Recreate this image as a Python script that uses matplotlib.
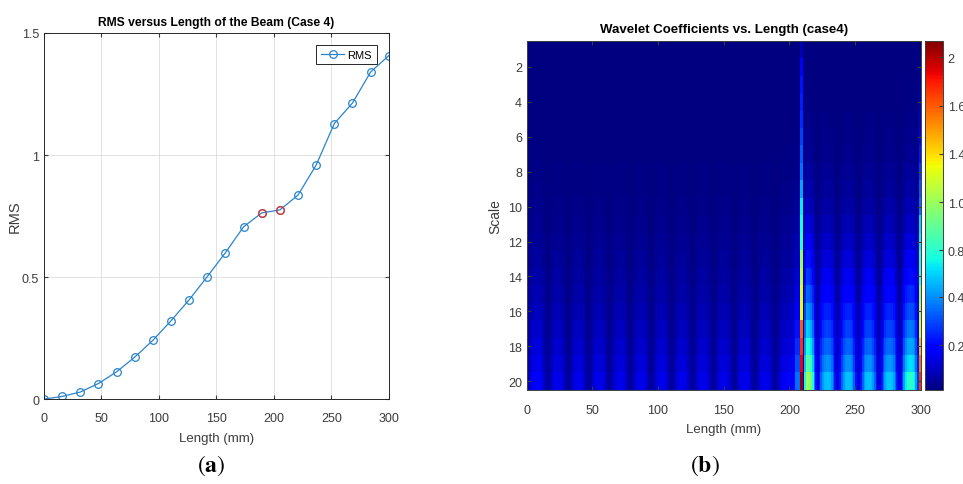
import numpy as np
import matplotlib
matplotlib.use("Agg")
import matplotlib.pyplot as plt

plt.rcParams['font.family'] = ['Liberation Sans', 'DejaVu Sans']
plt.rcParams['mathtext.fontset'] = 'stix'

# ---- (a) RMS along the beam ----
rms_length = np.linspace(0, 300, 20)   # 20 measuring points, equally spaced
rms_value = [0.0, 0.011, 0.029, 0.064, 0.112, 0.172, 0.241, 0.321, 0.407, 0.502,
             0.600, 0.706, 0.763, 0.775, 0.836, 0.959, 1.129, 1.213, 1.340, 1.407]
red_idx = [12, 13]   # points flagged in red

# ---- (b) wavelet coefficients, 20 scales x 19 beam segments ----
scales = np.arange(1, 21)
seg_peak = [0.24, 0.2, 0.2, 0.2, 0.2, 0.2, 0.2, 0.2, 0.2, 0.2,
            0.2, 0.2, 0.22, 1.15, 0.66, 0.66, 0.66, 0.68, 0.85]
bump_profile = [0.25, 0.45, 0.7, 0.88, 0.97, 1.0, 1.0, 0.97, 0.88, 0.7, 0.45, 0.25]
scale_gain = [0.0, 0.0, 0.01, 0.01, 0.02, 0.03, 0.04, 0.06, 0.08, 0.11,
              0.15, 0.2, 0.26, 0.33, 0.41, 0.5, 0.6, 0.72, 0.85, 1.0]

# crack zone, columns between these lengths (mm)
crack_edges = [200.0, 204.0, 208.3, 210.5, 211.3, 212.8]
crack_bottom = [0.25, 0.5, 0.0, 0.15, 0.8]        # bottom-row values (col 2 uses crack_line)
crack_line = [0.1, 0.25, 0.3, 0.32, 0.35, 0.4, 0.45, 0.5, 0.6, 0.75,
              0.8, 0.85, 1.1, 1.2, 1.3, 1.35, 1.7, 1.8, 1.9, 2.05]
edge_edges = [298.6, 300.0]
edge_line = [0.02, 0.05, 0.08, 0.1, 0.15, 0.2, 0.3, 0.38, 0.45, 0.5,
             0.7, 0.75, 0.8, 0.85, 1.1, 1.2, 1.3, 1.5, 1.65, 1.8]

cbar_tick_pos = [2.0, 1.71, 1.42, 1.13, 0.84, 0.56, 0.27]
cbar_tick_lab = ['2', '1.6', '1.4', '1.0', '0.8', '0.4', '0.2']

fig = plt.figure(figsize=(9.63, 4.85), dpi=100)
txt = '#3c3c3c'

# ------------------------ left panel ------------------------
ax1 = fig.add_axes([0.0457, 0.175, 0.358, 0.755])
blue = '#2a84cc'
ax1.plot(rms_length, rms_value, '-o', color=blue, lw=0.9, ms=5.5, mfc='none', mew=0.9, label='RMS')
ax1.plot(rms_length[red_idx], np.array(rms_value)[red_idx], 'o', ms=5.5, mfc='none',
         mec='#e8302a', mew=0.9)
ax1.set_xlim(0, 300)
ax1.set_ylim(0, 1.5)
ax1.set_xticks(np.arange(0, 301, 50))
ax1.set_yticks([0, 0.5, 1, 1.5])
ax1.set_yticklabels(['0', '0.5', '1', '1.5'])
ax1.grid(True, color='#dcdcdc', lw=0.6)
ax1.set_axisbelow(True)
ax1.tick_params(direction='in', top=True, right=True, labelsize=9, colors=txt, length=3)
ax1.tick_params(axis='x', pad=9)
for sp in ax1.spines.values():
    sp.set_color('#262626')
    sp.set_linewidth(0.7)
ax1.set_xlabel('Length (mm)', fontsize=9.5, color=txt, labelpad=6)
ax1.set_ylabel('RMS', fontsize=10.5, color=txt, labelpad=0)
ax1.set_title('RMS versus Length of the Beam (Case 4)', fontsize=8.7, fontweight='bold', pad=6)
leg = ax1.legend(loc='upper right', fontsize=8, fancybox=False, edgecolor='#262626',
                 handlelength=2.1, borderaxespad=1.1, borderpad=0.4, framealpha=1,
                 handletextpad=0.3)
leg.get_frame().set_linewidth(0.7)

# ------------------------ right panel ------------------------
ax2 = fig.add_axes([0.547, 0.194, 0.409, 0.72])
n_prof = len(bump_profile)
seg_w = 300.0 / len(seg_peak)
x_edges = np.concatenate([s * seg_w + np.arange(n_prof) * seg_w / n_prof
                          for s in range(len(seg_peak))] + [[300.0]])
y_edges = np.arange(0.5, 21, 1.0)
gain = np.array(scale_gain)[:, None]
Z = gain * np.repeat(seg_peak, n_prof)[None, :] * np.tile(bump_profile, len(seg_peak))[None, :]

norm = matplotlib.colors.Normalize(vmin=0, vmax=2.1)
mesh = ax2.pcolormesh(x_edges, y_edges, Z, cmap='jet', norm=norm, shading='flat')

Zc = gain * np.array(crack_bottom)[None, :]
Zc[:, 2] = crack_line
ax2.pcolormesh(crack_edges, y_edges, Zc, cmap='jet', norm=norm, shading='flat')
ax2.pcolormesh(edge_edges, y_edges, np.array(edge_line)[:, None], cmap='jet', norm=norm, shading='flat')

ax2.set_xlim(0, 300)
ax2.set_ylim(20.5, 0.5)
ax2.set_xticks(np.arange(0, 301, 50))
ax2.set_yticks(np.arange(2, 21, 2))
ax2.tick_params(direction='in', top=True, right=True, labelsize=9, colors=txt, length=3)
ax2.tick_params(axis='x', pad=10)
for sp in ax2.spines.values():
    sp.set_color('#404040')
    sp.set_linewidth(0.7)
ax2.set_xlabel('Length (mm)', fontsize=9.5, color=txt, labelpad=5)
ax2.set_ylabel('Scale', fontsize=10, color=txt, labelpad=4)
ax2.set_title('Wavelet Coefficients vs. Length (case4)', fontsize=9.5, fontweight='bold', pad=6)

cax = fig.add_axes([0.9605, 0.194, 0.0185, 0.72])
cb = fig.colorbar(mesh, cax=cax)
cb.set_ticks(cbar_tick_pos)
cb.set_ticklabels(cbar_tick_lab)
cb.ax.tick_params(direction='in', labelsize=9, colors=txt, length=3)
cb.outline.set_edgecolor('#404040')
cb.outline.set_linewidth(0.7)

fig.text(0.219, 0.04, r'$(\mathbf{a})$', fontsize=17, ha='center', va='center')
fig.text(0.732, 0.04, r'$(\mathbf{b})$', fontsize=17, ha='center', va='center')

fig.savefig('out.png', dpi=100)
